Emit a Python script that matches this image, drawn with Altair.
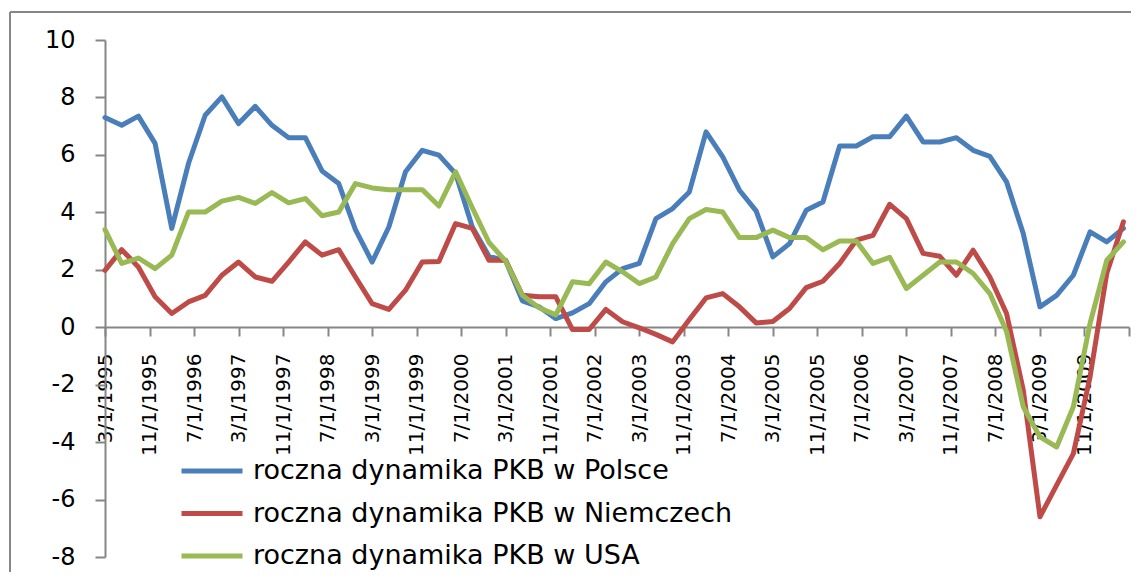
import json
import altair as alt
import pandas as pd

series_names = [
    "roczna dynamika PKB w Polsce",
    "roczna dynamika PKB w Niemczech",
    "roczna dynamika PKB w USA",
]
series_colors = ["#4A7EBB", "#BE4B48", "#98B954"]

# quarterly observations, first = 3/1/1995, step = 3 months
poland = [7.30, 7.03, 7.35, 6.40, 3.44, 5.70, 7.38, 8.02, 7.09, 7.69,
          7.03, 6.60, 6.60, 5.44, 5.00, 3.40, 2.27, 3.49, 5.41, 6.16,
          5.99, 5.35, 3.49, 2.47, 2.31, 0.92, 0.71, 0.30, 0.50, 0.82,
          1.58, 2.04, 2.22, 3.78, 4.13, 4.71, 6.80, 5.93, 4.77, 4.05,
          2.45, 2.91, 4.07, 4.36, 6.31, 6.31, 6.63, 6.63, 7.35, 6.45,
          6.45, 6.60, 6.16, 5.95, 5.06, 3.26, 0.71, 1.11, 1.81, 3.32,
          2.97, 3.44]
germany = [1.98, 2.70, 2.10, 1.06, 0.48, 0.88, 1.11, 1.81, 2.27, 1.75,
           1.60, 2.27, 2.97, 2.51, 2.70, 1.75, 0.82, 0.62, 1.29, 2.27,
           2.29, 3.61, 3.44, 2.33, 2.33, 1.11, 1.06, 1.06, -0.08, -0.08,
           0.62, 0.19, -0.02, -0.25, -0.51, 0.27, 1.02, 1.17, 0.71, 0.15,
           0.20, 0.65, 1.38, 1.60, 2.22, 3.03, 3.20, 4.28, 3.78, 2.57,
           2.47, 1.81, 2.68, 1.75, 0.48, -2.19, -6.60, -5.50, -4.40, -1.73,
           1.87, 3.67]
usa = [3.40, 2.22, 2.41, 2.04, 2.51, 4.01, 4.01, 4.39, 4.52, 4.31,
       4.69, 4.33, 4.48, 3.88, 4.01, 5.00, 4.85, 4.79, 4.79, 4.79,
       4.22, 5.41, 4.16, 2.95, 2.30, 1.11, 0.68, 0.43, 1.58, 1.51,
       2.27, 1.93, 1.52, 1.75, 2.91, 3.78, 4.10, 4.01, 3.12, 3.12,
       3.38, 3.12, 3.12, 2.70, 3.00, 3.00, 2.22, 2.43, 1.35, 1.81,
       2.27, 2.27, 1.87, 1.17, -0.15, -2.77, -3.82, -4.17, -2.77, 0.13,
       2.33, 2.97]

# x tick positions in months after 3/1/1995 and their labels
tick_months = [0, 8, 16, 24, 32, 40, 48, 56, 64, 72, 80, 88, 96, 104,
               112, 120, 128, 136, 144, 152, 160, 168, 176, 184]
tick_labels = ["3/1/1995", "11/1/1995", "7/1/1996", "3/1/1997", "11/1/1997",
               "7/1/1998", "3/1/1999", "11/1/1999", "7/1/2000", "3/1/2001",
               "11/1/2001", "7/1/2002", "3/1/2003", "11/1/2003", "7/1/2004",
               "3/1/2005", "11/1/2005", "7/1/2006", "3/1/2007", "11/1/2007",
               "7/1/2008", "3/1/2009", "11/1/2009"]
y_ticks = [-8, -6, -4, -2, 0, 2, 4, 6, 8, 10]

W, H = 1024, 517
FONT = "DejaVu Sans"
GREY = "#868686"

label_expr = json.dumps(tick_labels) + "[round(datum.value / 8)] || ''"

color = alt.Color(
    "series:N",
    scale=alt.Scale(domain=series_names, range=series_colors),
    legend=alt.Legend(
        title=None, orient="none", legendX=74, legendY=414,
        symbolType="stroke", symbolSize=3721, symbolStrokeWidth=5,
        labelFont=FONT, labelFontSize=27, labelColor="black",
        labelOffset=8, clipHeight=34, rowPadding=8.5, padding=0,
        labelLimit=800,
    ),
)

x_enc = alt.X(
    "month:Q",
    scale=alt.Scale(domain=[0, 184], nice=False, zero=False),
    axis=alt.Axis(
        title=None, values=tick_months, labelExpr=label_expr,
        labelAngle=-90, labelFont=FONT, labelFontSize=20, labelColor="black",
        labelPadding=17, labelFlush=False, labelOverlap=False, labelBound=False,
        tickSize=9, tickColor=GREY, tickWidth=2, domainColor=GREY, domainWidth=2,
        grid=False, offset=-230,
    ),
)
y_enc = alt.Y(
    "value:Q",
    scale=alt.Scale(domain=[-8, 10], nice=False, zero=False),
    axis=alt.Axis(
        title=None, values=y_ticks, labelExpr="toString(datum.value)",
        labelFont=FONT, labelFontSize=24, labelColor="black", labelPadding=20,
        tickSize=10, tickColor=GREY, tickWidth=2, domainColor=GREY, domainWidth=2,
        grid=False,
    ),
)

layers = []
for name, vals in zip(series_names, [poland, germany, usa]):
    df = pd.DataFrame({
        "month": [3 * i for i in range(len(vals))],
        "value": vals,
        "series": name,
    })
    layers.append(
        alt.Chart(df).mark_line(strokeWidth=5, strokeJoin="round", strokeCap="round")
        .encode(x=x_enc, y=y_enc, color=color)
    )

one = pd.DataFrame({"a": [0]})
border_left = alt.Chart(one).mark_rule(color=GREY, strokeWidth=2).encode(
    x=alt.value(-95), y=alt.value(-28), y2=alt.value(560))
border_top = alt.Chart(one).mark_rule(color=GREY, strokeWidth=2).encode(
    x=alt.value(-95), x2=alt.value(1040), y=alt.value(-28))

chart = alt.layer(border_left, border_top, *layers).properties(
    width=W, height=H,
    autosize=alt.AutoSizeParams(type="none"),
    padding={"left": 97, "top": 32, "right": 2, "bottom": 15},
    background="white",
).configure_view(stroke=None)

chart.save("out.html", embed_options={"renderer": "svg", "actions": False})
